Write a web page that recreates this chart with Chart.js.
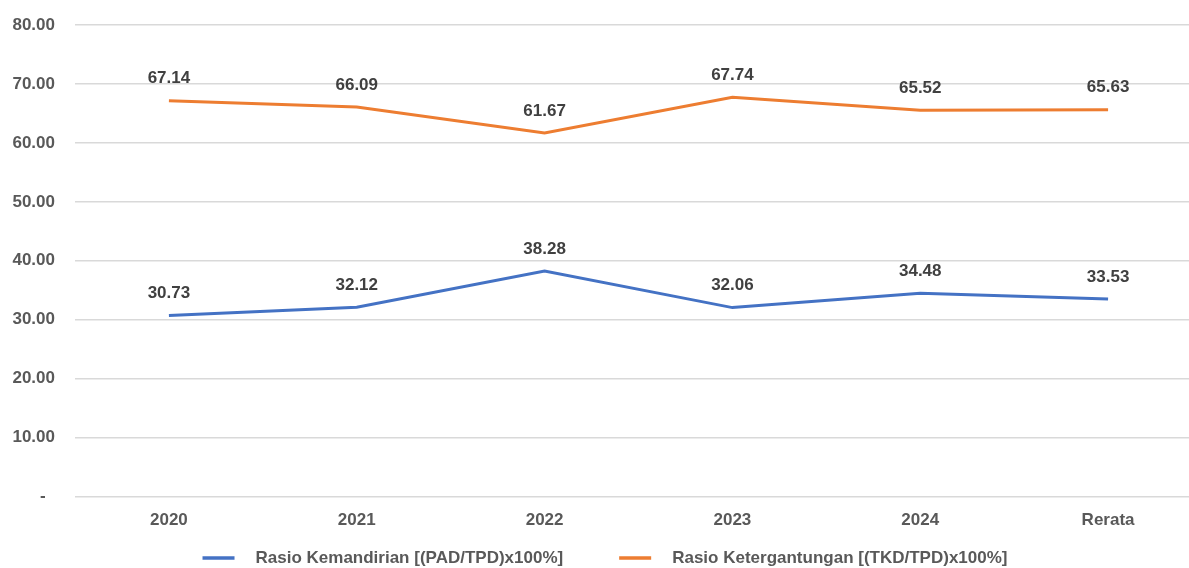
<!DOCTYPE html>
<html>
<head>
<meta charset="utf-8">
<script src="https://cdn.jsdelivr.net/npm/chart.js@4.4.1/dist/chart.umd.min.js"></script>
<style>
  html, body { margin: 0; padding: 0; background: #fff; overflow: hidden; }
  #wrap { width: 1202px; height: 568px; }
</style>
</head>
<body>
<div id="wrap"><canvas id="myChart"></canvas></div>
<script>
const categories = ['2020', '2021', '2022', '2023', '2024', 'Rerata'];
const kemandirian = [30.73, 32.12, 38.28, 32.06, 34.48, 33.53];
const ketergantungan = [67.14, 66.09, 61.67, 67.74, 65.52, 65.63];
const seriesNames = ['Rasio Kemandirian [(PAD/TPD)x100%]', 'Rasio Ketergantungan [(TKD/TPD)x100%]'];

const FONT = '"Liberation Sans Narrow", "Arial Narrow", "Liberation Sans", sans-serif';

// draws the value above each point
const pointLabels = {
  id: 'pointLabels',
  afterDatasetsDraw(chart) {
    const ctx = chart.ctx;
    ctx.save();
    ctx.font = 'bold 17px ' + FONT;
    ctx.fillStyle = '#404040';
    ctx.textAlign = 'center';
    ctx.textBaseline = 'middle';
    chart.data.datasets.forEach((set, i) => {
      chart.getDatasetMeta(i).data.forEach((pt, j) => {
        ctx.fillText(set.data[j].toFixed(2), pt.x, pt.y - 22);
      });
    });
    ctx.restore();
  }
};

// legend at the bottom: short line, wide gap, then the name
const bottomLegend = {
  id: 'bottomLegend',
  afterDraw(chart) {
    const ctx = chart.ctx;
    ctx.save();
    ctx.font = 'bold 17px ' + FONT;
    const lineW = 32, gap = 21, between = 56;
    const sets = chart.data.datasets;
    const widths = sets.map((s) => lineW + gap + ctx.measureText(s.label).width);
    const total = widths.reduce((a, b) => a + b, 0) + between * (sets.length - 1);
    let x = 605 - total / 2;
    const y = 558;
    sets.forEach((s, i) => {
      ctx.strokeStyle = s.borderColor;
      ctx.lineWidth = 3.5;
      ctx.beginPath();
      ctx.moveTo(x, y);
      ctx.lineTo(x + lineW, y);
      ctx.stroke();
      ctx.fillStyle = '#595959';
      ctx.textAlign = 'left';
      ctx.textBaseline = 'middle';
      ctx.fillText(s.label, x + lineW + gap, y);
      x += widths[i] + between;
    });
    ctx.restore();
  }
};

function makeChart() {
  const target = document.querySelector('#myChart');
  return new Chart(target, {
    type: 'line',
    data: {
      labels: categories,
      datasets: [
        {
          label: seriesNames[0],
          data: kemandirian,
          borderColor: '#4472C4',
          backgroundColor: '#4472C4',
          borderWidth: 3,
          pointRadius: 0,
          tension: 0
        },
        {
          label: seriesNames[1],
          data: ketergantungan,
          borderColor: '#ED7D31',
          backgroundColor: '#ED7D31',
          borderWidth: 3,
          pointRadius: 0,
          tension: 0
        }
      ]
    },
    options: {
      responsive: true,
      maintainAspectRatio: false,
      animation: false,
      layout: { padding: { top: 25, bottom: 31, left: 0, right: 0 } },
      plugins: {
        tooltip: { enabled: false },
        legend: { display: false }
      },
      scales: {
        x: {
          offset: true,
          grid: { display: false },
          border: { display: false },
          ticks: {
            color: '#595959',
            padding: 6,
            font: { family: FONT, size: 17, weight: 'bold' }
          }
        },
        y: {
          min: 0,
          max: 80,
          afterFit: (scale) => {
            scale.width = 75;
            scale.paddingTop = 0;
            scale.paddingBottom = 0;
          },
          border: { display: false },
          grid: { color: '#d9d9d9', lineWidth: 1.5, drawTicks: false },
          ticks: {
            stepSize: 10,
            padding: 20,
            color: '#595959',
            font: { family: FONT, size: 17, weight: 'bold' },
            // accounting style: zero shows as a dash, set in a little
            callback: (v) => (v === 0 ? '-  ' : v.toFixed(2))
          }
        }
      }
    },
    plugins: [pointLabels, bottomLegend]
  });
}

document.addEventListener('DOMContentLoaded', () => makeChart());
</script>
</body>
</html>
